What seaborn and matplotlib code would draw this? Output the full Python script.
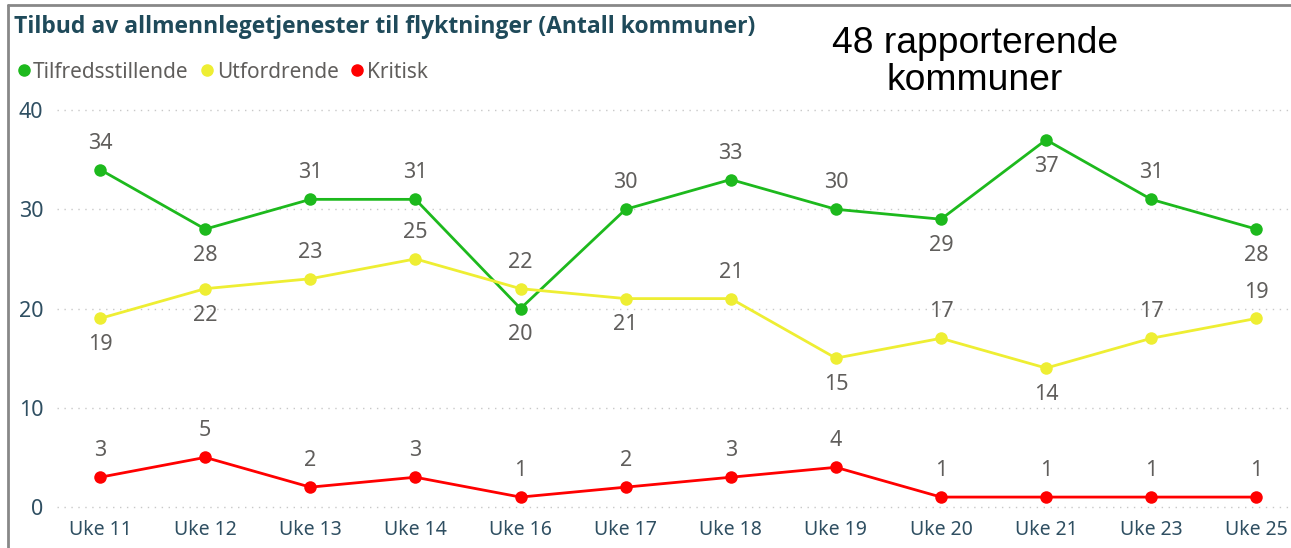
import pandas as pd
import matplotlib.pyplot as plt
import seaborn as sns
from matplotlib.lines import Line2D

weeks = ["Uke 11", "Uke 12", "Uke 13", "Uke 14", "Uke 16", "Uke 17",
         "Uke 18", "Uke 19", "Uke 20", "Uke 21", "Uke 23", "Uke 25"]
tilfreds = [34, 28, 31, 31, 20, 30, 33, 30, 29, 37, 31, 28]
utford = [19, 22, 23, 25, 22, 21, 21, 15, 17, 14, 17, 19]
kritisk = [3, 5, 2, 3, 1, 2, 3, 4, 1, 1, 1, 1]
# label placement: +1 above point, -1 below point
pos_tilfreds = [1, -1, 1, 1, -1, 1, 1, 1, -1, -1, 1, -1]
pos_utford = [-1, -1, 1, 1, 1, -1, 1, -1, 1, -1, 1, 1]
pos_kritisk = [1] * 12

series = ["Tilfredsstillende", "Utfordrende", "Kritisk"]
colors = {"Tilfredsstillende": "#1DB91D", "Utfordrende": "#EEEE33", "Kritisk": "#FF0000"}

rows = []
for name, vals in zip(series, [tilfreds, utford, kritisk]):
    for i, v in enumerate(vals):
        rows.append({"x": i, "week": weeks[i], "value": v, "serie": name})
df = pd.DataFrame(rows)

sns.set_style("white")
plt.rcParams["font.family"] = ["Noto Sans", "DejaVu Sans"]

fig = plt.figure(figsize=(12.91, 5.48), dpi=100)
ax = fig.add_axes([57 / 1291, 0.0567, 1 - 57 / 1291, 0.8173 - 0.0567])

sns.lineplot(data=df, x="x", y="value", hue="serie", palette=colors,
             marker="o", markersize=9, markeredgewidth=0, linewidth=2,
             sort=False, legend=False, ax=ax, clip_on=False)

label_col = "#605E5C"
for vals, pos in [(tilfreds, pos_tilfreds), (utford, pos_utford), (kritisk, pos_kritisk)]:
    for i, (v, p) in enumerate(zip(vals, pos)):
        ax.annotate(str(v), (i, v), xytext=(0, 19 * p), textcoords="offset points",
                    ha="center", va="center", fontsize=15.5, color=label_col)

ax.set_xlim(-0.41, 11.33)
ax.set_ylim(-1, 41)
ax.set_xticks(range(len(weeks)))
ax.set_xticklabels(weeks)
ax.set_yticks([0, 10, 20, 30, 40])
ax.tick_params(axis="both", length=0, colors="#2F4F62")
ax.tick_params(axis="x", pad=2, labelsize=14)
ax.tick_params(axis="y", pad=10, labelsize=15.5)
ax.set_xlabel("")
ax.set_ylabel("")
ax.grid(axis="y", linestyle=(0, (1, 4)), color="#C8C8C8", linewidth=1)
for s in ax.spines.values():
    s.set_visible(False)

# title and legend
fig.text(14 / 1291, 1 - 27 / 548, "Tilbud av allmennlegetjenester til flyktninger (Antall kommuner)",
         fontsize=16.5, fontweight="bold", color="#1F4A5A", va="center", ha="left",
         family=["Open Sans", "Lato", "DejaVu Sans"])
handles = [Line2D([], [], marker="o", linestyle="", color=colors[s], markersize=8) for s in series]
fig.legend(handles, series, loc="center left", bbox_to_anchor=(6 / 1291, 1 - 72 / 548),
           ncol=3, frameon=False, fontsize=15, handletextpad=0.0, columnspacing=0.45,
           handlelength=0.9, labelcolor="#605E5C", borderaxespad=0)

fig.text(975 / 1291, 1 - 62 / 548, "48 rapporterende\nkommuner", fontsize=26.8,
         family="Liberation Sans", color="black", ha="center", va="center", linespacing=1.1)

# frame lines of the original visual
fig.add_artist(Line2D([8 / 1291, 1], [1 - 5 / 548, 1 - 5 / 548], color="#888888", linewidth=2))
fig.add_artist(Line2D([8 / 1291, 8 / 1291], [0, 1 - 5 / 548], color="#888888", linewidth=2))

fig.savefig("out.png", dpi=100)
